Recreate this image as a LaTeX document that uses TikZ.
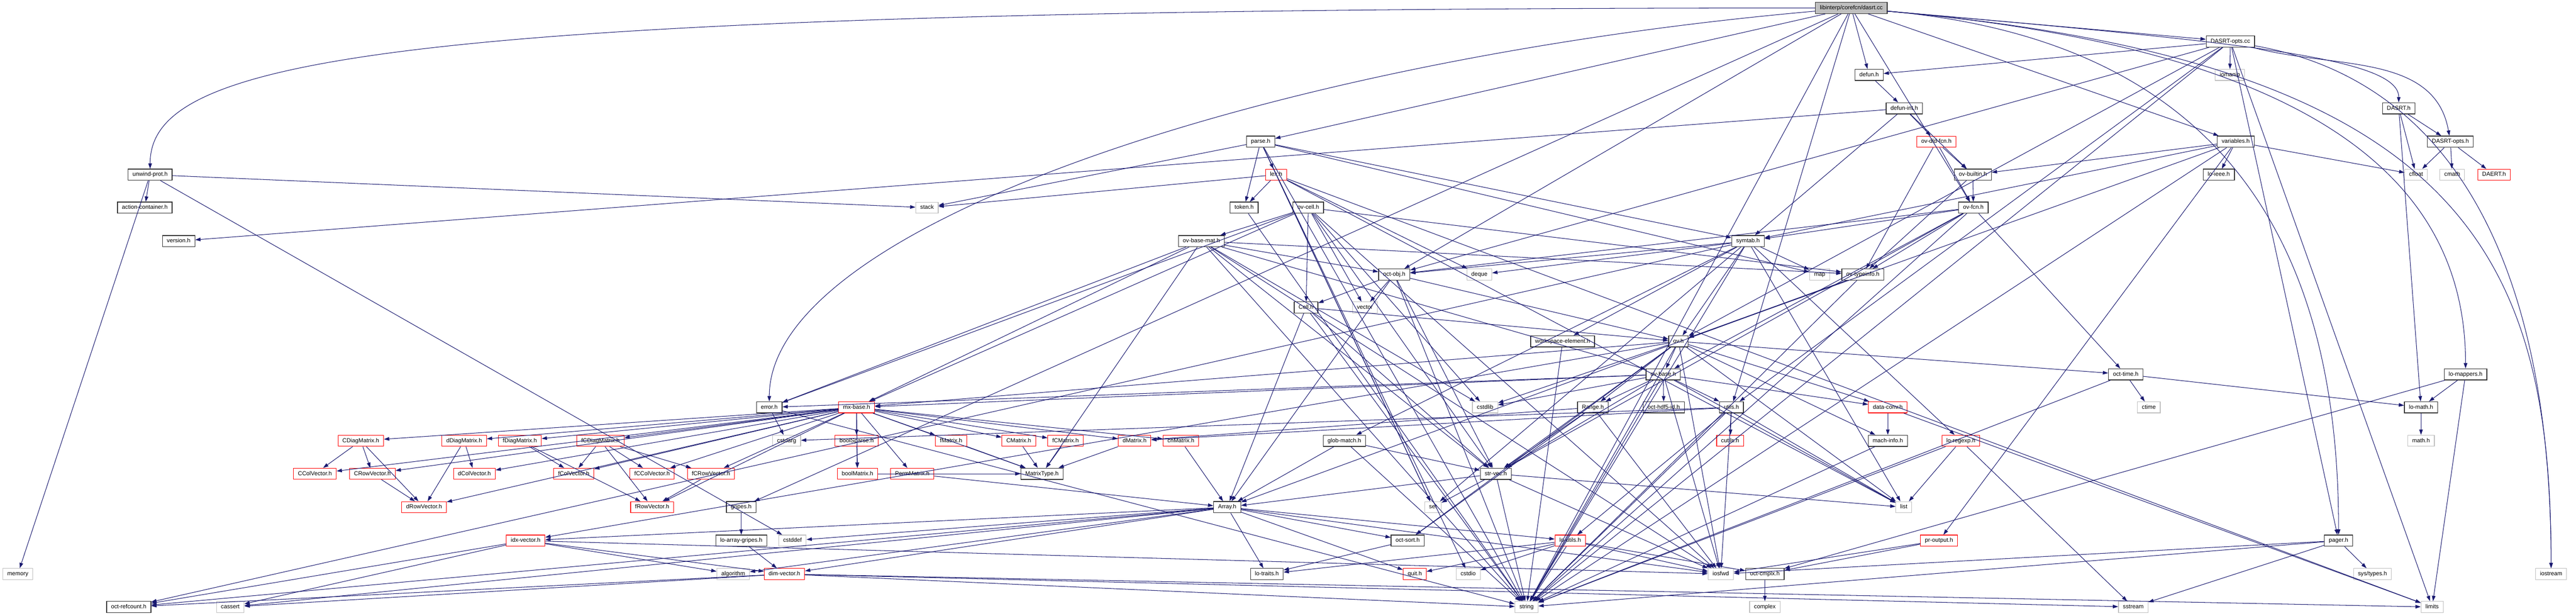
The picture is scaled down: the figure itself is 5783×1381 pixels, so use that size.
\documentclass[tikz,border=0pt]{standalone}
\usepackage{fontspec}
\setmainfont{Liberation Sans}
\usepackage{xcolor}
\usepackage{tikz}
\usetikzlibrary{arrows.meta}
\definecolor{dxblue}{HTML}{191970}
\definecolor{dxgrey}{HTML}{BFBFBF}
\definecolor{dxred}{HTML}{FF0000}
\definecolor{dxdark}{HTML}{333333}

\tikzset{
  fileh/.style={draw=dxdark, line width=0.3pt, fill=white, minimum height=5pt,
    inner xsep=2pt, inner ysep=0pt, text height=1.9pt, text depth=0.5pt,
    font=\fontsize{2.6}{3}\selectfont},
  trunc/.style={fileh, draw=dxred, line width=0.26pt},
  sysh/.style={fileh, draw=dxgrey, line width=0.26pt},
  rootf/.style={fileh, fill=dxgrey},
  dep/.style={draw=dxblue, line width=0.24pt, -{Triangle[length=2.4pt,width=1.6pt]}},
}

\begin{document}
\begin{tikzpicture}[x=0.2pt, y=-0.2pt, every edge/.style={dep}]
            \useasboundingbox (0,0) rectangle (5783,1381);
            % rows of the include graph, top to bottom
            \node[rootf] (title) at (4156,18) {libinterp/corefcn/dasrt.cc};
            \node[fileh] (daoptcc) at (5007,93) {DASRT-opts.cc};
            \node[fileh] (defun) at (4196,168) {defun.h};
            \node[sysh] (iomanip) at (5006,168) {iomanip};
            \node[fileh] (defunint) at (4275,243) {defun-int.h};
            \node[fileh] (dasrth) at (5385,243) {DASRT.h};
            \node[fileh] (parse) at (2830,318) {parse.h};
            \node[trunc] (ovdld) at (4347,318) {ov-dld-fcn.h};
            \node[fileh] (vars) at (5019,318) {variables.h};
            \node[fileh] (daopth) at (5501,318) {DASRT-opts.h};
            \node[fileh] (unwind) at (337,392) {unwind-prot.h};
            \node[trunc] (lex) at (2865,392) {lex.h};
            \node[fileh] (ovbuiltin) at (4429,392) {ov-builtin.h};
            \node[fileh] (loieee) at (4981,392) {lo-ieee.h};
            \node[sysh] (cfloat) at (5424,392) {cfloat};
            \node[sysh] (cmath) at (5505,392) {cmath};
            \node[trunc] (daerth) at (5599,392) {DAERT.h};
            \node[fileh] (actcont) at (325,466) {action-container.h};
            \node[sysh] (stack) at (2081,466) {stack};
            \node[fileh] (token) at (2793,466) {token.h};
            \node[fileh] (ovcell) at (2937,466) {ov-cell.h};
            \node[fileh] (ovfcn) at (4430,466) {ov-fcn.h};
            \node[fileh] (version) at (401,541) {version.h};
            \node[fileh] (ovbasemat) at (2697,541) {ov-base-mat.h};
            \node[fileh] (symtab) at (3924,541) {symtab.h};
            \node[fileh] (octobj) at (3130,616) {oct-obj.h};
            \node[sysh] (deque) at (3321,616) {deque};
            \node[sysh] (map) at (4085,616) {map};
            \node[fileh] (ovtypeinfo) at (4182,616) {ov-typeinfo.h};
            \node[fileh] (cell) at (2932,690) {Cell.h};
            \node[sysh] (vector) at (3064,690) {vector};
            \node[fileh] (wselem) at (3508,766) {workspace-element.h};
            \node[fileh] (ov) at (3768,766) {ov.h};
            \node[fileh] (ovbase) at (3734,840) {ov-base.h};
            \node[fileh] (octtime) at (4772,840) {oct-time.h};
            \node[fileh] (lomappers) at (5535,840) {lo-mappers.h};
            \node[fileh] (error) at (1727,914) {error.h};
            \node[trunc] (mxbase) at (1923,914) {mx-base.h};
            \node[sysh] (cstdlib) at (3334,914) {cstdlib};
            \node[fileh] (range) at (3576,914) {Range.h};
            \node[fileh] (hdfid) at (3735,914) {oct-hdf5-id.h};
            \node[fileh] (utils) at (3887,914) {utils.h};
            \node[trunc] (dataconv) at (4238,914) {data-conv.h};
            \node[sysh] (ctime) at (4824,914) {ctime};
            \node[fileh] (lomath) at (5435,914) {lo-math.h};
            \node[trunc] (CDiag) at (810,989) {CDiagMatrix.h};
            \node[trunc] (dDiag) at (1042,989) {dDiagMatrix.h};
            \node[trunc] (fDiag) at (1167,989) {fDiagMatrix.h};
            \node[trunc] (fCDiag) at (1348,989) {fCDiagMatrix.h};
            \node[sysh] (cstdarg) at (1766,989) {cstdarg};
            \node[trunc] (boolsp) at (1923,989) {boolSparse.h};
            \node[trunc] (fMat) at (2135,989) {fMatrix.h};
            \node[trunc] (CMat) at (2287,989) {CMatrix.h};
            \node[trunc] (fCMat) at (2392,989) {fCMatrix.h};
            \node[trunc] (dMat) at (2547,989) {dMatrix.h};
            \node[trunc] (chMat) at (2651,989) {chMatrix.h};
            \node[fileh] (globmatch) at (3018,989) {glob-match.h};
            \node[trunc] (cutils) at (3884,989) {cutils.h};
            \node[fileh] (machinfo) at (4238,989) {mach-info.h};
            \node[trunc] (loregexp) at (4402,989) {lo-regexp.h};
            \node[sysh] (mathh) at (5435,989) {math.h};
            \node[trunc] (CCol) at (707,1063) {CColVector.h};
            \node[trunc] (CRow) at (836,1063) {CRowVector.h};
            \node[trunc] (dCol) at (1065,1063) {dColVector.h};
            \node[trunc] (fCol) at (1288,1063) {fColVector.h};
            \node[trunc] (fCCol) at (1464,1063) {fCColVector.h};
            \node[trunc] (fCRow) at (1596,1063) {fCRowVector.h};
            \node[trunc] (boolmat) at (1925,1063) {boolMatrix.h};
            \node[trunc] (perm) at (2048,1063) {PermMatrix.h};
            \node[fileh] (mtype) at (2339,1063) {MatrixType.h};
            \node[fileh] (strvec) at (3358,1063) {str-vec.h};
            \node[trunc] (dRow) at (952,1138) {dRowVector.h};
            \node[trunc] (fRow) at (1464,1138) {fRowVector.h};
            \node[fileh] (gripes) at (1664,1138) {gripes.h};
            \node[fileh] (array) at (2755,1138) {Array.h};
            \node[sysh] (set) at (3217,1138) {set};
            \node[sysh] (list) at (4274,1138) {list};
            \node[trunc] (idxvec) at (1180,1213) {idx-vector.h};
            \node[fileh] (loagripes) at (1664,1213) {lo-array-gripes.h};
            \node[sysh] (cstddef) at (1779,1213) {cstddef};
            \node[fileh] (octsort) at (3160,1213) {oct-sort.h};
            \node[trunc] (loutils) at (3525,1213) {lo-utils.h};
            \node[trunc] (proutput) at (4353,1213) {pr-output.h};
            \node[fileh] (pager) at (5250,1213) {pager.h};
            \node[sysh] (memory) at (40,1288) {memory};
            \node[sysh] (algorithm) at (1646,1288) {algorithm};
            \node[trunc] (dimvec) at (1761,1288) {dim-vector.h};
            \node[fileh] (lotraits) at (2844,1288) {lo-traits.h};
            \node[trunc] (quit) at (3176,1288) {quit.h};
            \node[sysh] (cstdio) at (3296,1288) {cstdio};
            \node[sysh] (iosfwd) at (3863,1288) {iosfwd};
            \node[fileh] (octcmplx) at (3962,1288) {oct-cmplx.h};
            \node[sysh] (systypes) at (5326,1288) {sys/types.h};
            \node[sysh] (iostream) at (5727,1288) {iostream};
            \node[fileh] (refcount) at (289,1362) {oct-refcount.h};
            \node[sysh] (cassert) at (517,1362) {cassert};
            \node[sysh] (string) at (3427,1362) {string};
            \node[sysh] (complex) at (3962,1362) {complex};
            \node[sysh] (sstream) at (4789,1362) {sstream};
            \node[sysh] (limits) at (5460,1362) {limits};

            % includes of the source file
            \path (title) edge (defun) edge (daoptcc) edge (vars) edge (parse) edge (ovfcn)
                edge (octobj) edge (utils) edge (string) edge (gripes)
                edge[out=180, in=90, out distance=640pt, in distance=50pt] (unwind)
                edge[out=185, in=90, out distance=240pt, in distance=80pt] (error)
                edge[out=-5, in=90, out distance=160pt, in distance=20pt] (dasrth)
                edge[out=-5, in=90, out distance=200pt, in distance=80pt] (lomappers)
                edge[out=-5, in=90, out distance=260pt, in distance=140pt] (iostream)
                edge[out=-5, in=90, out distance=160pt, in distance=120pt] (pager);
            \path (daoptcc) edge (iomanip) edge (defun) edge (octobj) edge (ov) edge (utils)
                edge (pager) edge (limits) edge (string)
                edge[out=-15, in=100] (daopth)
                edge[out=-10, in=90, out distance=100pt, in distance=120pt] (iostream);
            \path (vars) edge (loieee) edge (cfloat) edge (ovbuiltin) edge (ov) edge (proutput)
                edge (string) edge (symtab);
            \path (dasrth) edge (daopth) edge (cfloat) edge (lomath);
            \path (daopth) edge (cfloat) edge (cmath) edge (daerth);
            \path (lomappers) edge (lomath) edge (limits) edge (octcmplx);
            \path (lomath) edge (mathh);
            \path (pager) edge (systypes) edge (iosfwd) edge (sstream) edge (string);
            \path (octtime) edge (ctime) edge (lomath) edge (string);
            \path (dataconv) edge (machinfo) edge (limits);
            \path (machinfo) edge (string);
            \path (loregexp) edge (list) edge (sstream) edge (string);
            \path (proutput) edge (octcmplx) edge (iosfwd);

            % octave value and function headers
            \path (defun) edge (defunint);
            \path (defunint) edge (ovdld) edge (ovbuiltin) edge (version) edge (symtab);
            \path (ovdld) edge (ovbuiltin) edge (ovfcn) edge (ovtypeinfo);
            \path (ovbuiltin) edge (ovfcn) edge (ovtypeinfo);
            \path (ovfcn) edge (ovtypeinfo) edge (octtime) edge (symtab) edge (octobj)
                edge (ovbase) edge (strvec) edge (string);
            \path (ovtypeinfo) edge (ov) edge (array) edge (string);
            \path (parse) edge (lex) edge (token) edge (stack) edge (symtab) edge (map)
                edge (set) edge (cstdio) edge (string);
            \path (lex) edge (token) edge (stack) edge (deque) edge (list) edge (set) edge (limits);
            \path (token) edge (string);
            \path (ovcell) edge (cell) edge (ovbasemat) edge (mxbase) edge (error) edge (strvec)
                edge (ovtypeinfo) edge (cstdlib) edge (iosfwd) edge (vector);
            \path (ovbasemat) edge (mxbase) edge (mtype) edge (error) edge (octobj) edge (ovbase)
                edge (ovtypeinfo) edge (strvec) edge (cstdlib) edge (iosfwd) edge (string);
            \path (cell) edge (array) edge (strvec) edge (ov) edge (string);
            \path (symtab) edge (wselem) edge (octobj) edge (deque) edge (map) edge (list)
                edge (set) edge (string) edge (globmatch) edge (loregexp) edge (refcount) edge (ov);
            \path (octobj) edge (vector) edge (string) edge (strvec) edge (array) edge (cell) edge (ov);
            \path (wselem) edge (string);
            \path (ov) edge (ovbase) edge (range) edge (cstdlib) edge (iosfwd) edge (string)
                edge (list) edge (dataconv) edge (idxvec) edge (machinfo) edge (mxbase)
                edge (octtime) edge (strvec) edge (octsort);
            \path (ovbase) edge (hdfid) edge (range) edge (cstdlib) edge (strvec) edge (iosfwd)
                edge (list) edge (string) edge (dataconv) edge (mxbase) edge (error) edge (utils);
            \path (utils) edge (cutils) edge (iosfwd) edge (string) edge (list) edge (cstdarg)
                edge (dMat) edge (loutils);
            \path (range) edge (iosfwd) edge (dMat) edge (octsort) edge (strvec);
            \path (globmatch) edge (string) edge (array) edge (strvec);
            \path (strvec) edge (set) edge (string) edge (iosfwd) edge (array) edge (list);

            % liboctave headers
            \path (loutils) edge (quit) edge (cstdio) edge (string) edge (iosfwd) edge (octcmplx)
                edge (lotraits);
            \path (octcmplx) edge (complex);
            \path (octsort) edge (lotraits);
            \path (array) edge (cassert) edge (cstddef) edge (algorithm) edge (iosfwd) edge (dimvec)
                edge (idxvec) edge (lotraits) edge (loutils) edge (octsort) edge (quit) edge (refcount);
            \path (idxvec) edge (cassert) edge (algorithm) edge (iosfwd) edge (dimvec) edge (refcount);
            \path (dimvec) edge (cassert) edge (limits) edge (sstream) edge (string) edge (refcount);
            \path (loagripes) edge (dimvec);
            \path (gripes) edge (loagripes);
            \path (error) edge (cstdarg) edge (string);
            \path (unwind) edge (actcont) edge (stack) edge (memory) edge (cstddef);
            \path (mxbase) edge (CDiag) edge (dDiag) edge (fDiag) edge (fCDiag) edge (boolsp)
                edge (boolmat) edge (fMat) edge (CMat) edge (fCMat) edge (dMat) edge (chMat)
                edge (perm) edge (CCol) edge (CRow) edge (dCol) edge (dRow) edge (fCol)
                edge (fCCol) edge (fCRow) edge (fRow) edge (mtype);
            \path (CDiag) edge (CCol) edge (CRow) edge (dRow);
            \path (CRow) edge (dRow);
            \path (dDiag) edge (dCol) edge (dRow);
            \path (fDiag) edge (fCol) edge (fRow);
            \path (fCDiag) edge (fCol) edge (fCCol) edge (fCRow) edge (fRow);
            \path (fCRow) edge (fRow);
            \path (boolsp) edge (boolmat);
            \path (boolmat) edge (mtype);
            \path (fMat) edge (mtype);
            \path (CMat) edge (mtype);
            \path (fCMat) edge (mtype);
            \path (dMat) edge (mtype);
            \path (chMat) edge (array);
            \path (perm) edge (array);
        \end{tikzpicture}
\end{document}
